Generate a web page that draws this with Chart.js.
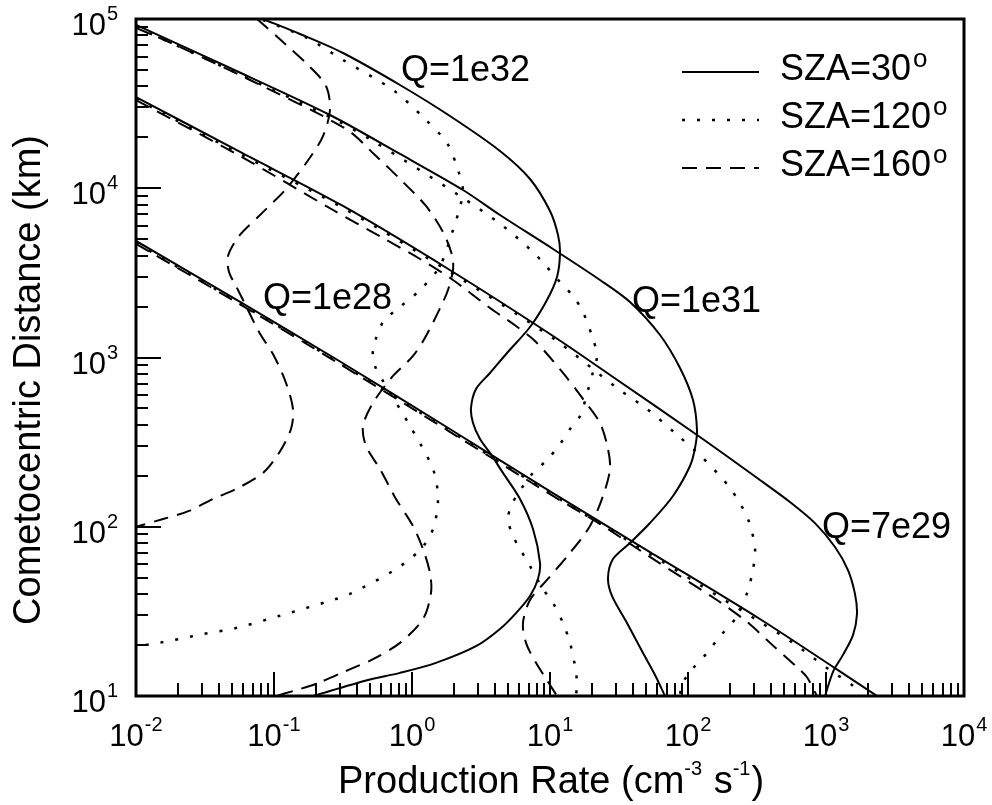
<!DOCTYPE html>
<html>
<head>
<meta charset="utf-8">
<title>Production rate vs cometocentric distance</title>
<script src="https://cdn.jsdelivr.net/npm/chart.js@4.4.1/dist/chart.umd.min.js"></script>
<style>
  html, body { margin: 0; padding: 0; background: #fff; }
  canvas { display: block; }
</style>
</head>
<body>
<canvas id="chart" width="992" height="805"></canvas>
<script>
// ---- axis ticks (powers of ten) ----
const xTickExps = [-2, -1, 0, 1, 2, 3, 4];
const yTickExps = [1, 2, 3, 4, 5];
const minorSteps = [2, 3, 4, 5, 6, 7, 8, 9];

// ---- curves: [production rate (cm-3 s-1), distance (km)] ----
// Q = 1e28
const q28_sza30 = [[0.01, 4880], [0.0568, 2130], [0.281, 980], [1.88, 378], [10.5, 158], [53.0, 70.9], [332, 28.5], [2340, 10]];
const q28_sza120 = [[0.01, 4750], [0.0568, 2080], [0.281, 955], [1.88, 368], [10.5, 154], [53.0, 69.0], [122, 45.3], [332, 27.4], [577, 20.6], [1069, 14.2], [1569, 11.5], [1764, 10]];
const q28_sza160 = [[0.01, 4700], [0.0568, 2060], [0.281, 945], [1.88, 364], [10.5, 152], [23.0, 104], [53.0, 66.3], [162, 36.9], [268, 27.4], [393, 20.6], [617, 14.8], [728, 12.9], [861, 10]];

// Q = 7e29
const q29_sza30 = [[0.01, 34600], [0.0568, 16380], [0.316, 7855], [1.88, 3289], [10.52, 1340], [28.61, 767], [122, 339], [332, 189], [548, 140], [832, 105], [1162, 75.9], [1443, 55.5], [1622, 40.1], [1677, 30.5], [1569, 22.9], [1328, 17.5], [1124, 13.9], [984, 10]];
const q29_sza120 = [[0.01, 33680], [0.0568, 15930], [0.316, 7645], [1.88, 3201], [10.5, 1300], [30.6, 660], [50.5, 496], [80.5, 358], [128, 255], [202, 169], [272, 111], [306, 73.9], [296, 56.3], [268, 40.6], [219, 28.5], [171, 22.6], [137, 17.9], [109, 14.6], [90.5, 11.8], [87.5, 10]];
const q29_sza160 = [[0.01, 33210], [0.0568, 15510], [0.268, 7438], [0.617, 5082], [1.143, 3819], [1.982, 2871], [3.674, 1961], [5.67, 1535], [7.918, 1235], [12.42, 810], [17.34, 569], [23.03, 410], [26.32, 288], [27.21, 219], [24.22, 152], [19.49, 101], [13.96, 70.0], [9.513, 48.5], [7.164, 36.9], [6.372, 27.0], [6.70, 20.6], [7.918, 15.7], [9.513, 12.4], [11.24, 10]];

// Q = 1e31
const q31_sza30 = [[0.01, 92150], [0.048, 51330], [0.2545, 27090], [0.8185, 15940], [2.342, 9766], [4.341, 6950], [10.52, 4377], [23.03, 2871], [37.98, 2128], [62.68, 1358], [87.5, 867], [108.7, 561], [116.2, 373], [112.4, 292], [103.4, 228.5], [77.86, 152], [53.04, 105.2], [37.98, 80.2], [28.61, 64.5], [26.32, 49.8], [28.13, 39.0], [36.14, 27.0], [47.2, 17.95], [57.67, 13.3], [68.13, 10]];
const q31_sza120 = [[0.01, 89680], [0.048, 49950], [0.2545, 26360], [0.5217, 19020], [2.227, 9000], [4.564, 5983], [7.531, 4201], [9.354, 3472], [11.82, 2793], [14.68, 2309], [17.34, 1857], [20.49, 1286], [21.91, 1021], [20.49, 821], [18.86, 643], [16.5, 451], [13.96, 378], [11.82, 308], [9.513, 248], [7.531, 208], [6.165, 167], [5.304, 136], [4.963, 111], [5.394, 88.2], [6.062, 73.9], [7.164, 58.6], [8.898, 42.9], [10.52, 35.4], [12.42, 27.0], [13.96, 20.6], [15.18, 15.0], [15.69, 11.9], [15.43, 10]];
const q31_sza160 = [[0.01, 88470], [0.01734, 73140], [0.067, 43610], [0.3323, 22400], [0.5394, 15720], [0.8606, 10890], [1.263, 7855], [1.677, 5514], [1.949, 4033], [1.982, 3289], [1.823, 2505], [1.677, 2128], [1.263, 1340], [1.017, 1021], [0.7282, 778], [0.5217, 539], [0.4414, 394], [0.4642, 300], [0.5863, 219], [0.7657, 146], [1.017, 101], [1.201, 73.9], [1.35, 53.3], [1.373, 40.6], [1.201, 28.5], [0.8185, 20.6], [0.5217, 16.5], [0.3323, 14.05], [0.2015, 11.8], [0.1373, 10.7], [0.1034, 10]];

// Q = 1e32
const q32_sza30 = [[0.0832, 100000], [0.1543, 81550], [0.3162, 62970], [0.8185, 40740], [1.884, 26720], [4.341, 16600], [7.164, 11340], [10.0, 7337], [11.43, 5294], [11.82, 4144], [11.24, 2990], [9.513, 2186], [7.164, 1514], [4.88, 1063], [3.674, 810], [2.909, 652], [2.676, 503], [2.767, 410], [3.111, 330], [3.674, 273], [4.564, 208], [6.062, 146], [7.531, 97.0], [8.463, 61.1], [8.185, 49.1], [7.164, 39.0], [5.67, 30.9], [4.341, 24.9], [2.909, 19.7], [1.492, 15.7], [0.8185, 13.7], [0.472, 12.4], [0.1917, 10]];
const q32_sza120 = [[0.0832, 98650], [0.1734, 77220], [0.3162, 57280], [0.7282, 38060], [1.201, 26360], [1.793, 18510], [2.119, 13350], [2.342, 9766], [2.227, 7750], [1.982, 5667], [1.595, 3472], [1.143, 2505], [0.8185, 1988], [0.6165, 1620], [0.5217, 1107], [0.5394, 891], [0.6165, 726], [0.9672, 394], [1.42, 219], [1.543, 146], [1.42, 97.0], [1.143, 72.9], [0.7282, 54.8], [0.3554, 40.1], [0.281, 37.4], [0.1087, 29.7], [0.05304, 25.2], [0.03058, 23.2], [0.01468, 20.6], [0.01, 19.7]];
const q32_sza160 = [[0.0753, 100000], [0.1162, 73140], [0.1793, 52780], [0.2381, 40190], [0.2545, 28990], [0.2265, 20350], [0.1793, 14890], [0.1222, 9899], [0.07786, 6855], [0.05578, 5223], [0.04642, 3978], [0.0472, 3201], [0.05304, 2645], [0.06268, 2015], [0.07786, 1415], [0.1, 1021], [0.1222, 707], [0.1373, 496], [0.1328, 378], [0.1087, 273], [0.08323, 208], [0.05304, 167], [0.03614, 146], [0.02422, 124], [0.01569, 111], [0.01, 100]];

// ---- text ----
const legendLabels = ['SZA=30', 'SZA=120', 'SZA=160'];
const qLabels = [
  { text: 'Q=1e32', x: 401, y: 81 },
  { text: 'Q=1e28', x: 263, y: 309 },
  { text: 'Q=1e31', x: 632, y: 312 },
  { text: 'Q=7e29', x: 822, y: 538 }
];

const FONT = '"Liberation Sans", Arial, Helvetica, sans-serif';
const dashStyles = { solid: [], dotted: [3, 12], dashed: [15, 9] };

function curve(points, style) {
  return {
    data: points.map(p => ({ x: p[0], y: p[1] })),
    showLine: true,
    borderColor: '#000',
    borderWidth: style === 'dotted' ? 2.5 : 2,
    borderDash: dashStyles[style],
    borderCapStyle: 'butt',
    pointRadius: 0,
    pointHoverRadius: 0,
    tension: 0.3,
    fill: false
  };
}

// draws "10" with a raised exponent
function drawPower(ctx, exp, x, baseY, align) {
  const baseFont = '31px ' + FONT;
  const supFont = '20px ' + FONT;
  ctx.font = baseFont;
  const wb = ctx.measureText('10').width;
  ctx.font = supFont;
  const ws = ctx.measureText(String(exp)).width;
  const total = wb + 1 + ws;
  const left = align === 'center' ? x - total / 2 : x - total;
  ctx.textAlign = 'left';
  ctx.textBaseline = 'alphabetic';
  ctx.font = baseFont;
  ctx.fillText('10', left, baseY);
  ctx.font = supFont;
  ctx.fillText(String(exp), left + wb + 1, baseY - 15);
}

const decorations = {
  id: 'decorations',
  afterDraw(chart) {
    const { ctx, chartArea: area } = chart;
    const xs = chart.scales.x;
    const ys = chart.scales.y;
    ctx.save();
    ctx.strokeStyle = '#000';
    ctx.fillStyle = '#000';
    ctx.setLineDash([]);

    // inward ticks on bottom and left axes
    ctx.lineWidth = 2;
    ctx.beginPath();
    xTickExps.forEach((e, i) => {
      const px = Math.round(xs.getPixelForValue(Math.pow(10, e)));
      ctx.moveTo(px, area.bottom);
      ctx.lineTo(px, area.bottom - 24);
      if (i < xTickExps.length - 1) {
        minorSteps.forEach(m => {
          const mx = Math.round(xs.getPixelForValue(m * Math.pow(10, e)));
          ctx.moveTo(mx, area.bottom);
          ctx.lineTo(mx, area.bottom - 13);
        });
      }
    });
    yTickExps.forEach((e, i) => {
      const py = Math.round(ys.getPixelForValue(Math.pow(10, e)));
      ctx.moveTo(area.left, py);
      ctx.lineTo(area.left + 25, py);
      if (i < yTickExps.length - 1) {
        minorSteps.forEach(m => {
          const my = Math.round(ys.getPixelForValue(m * Math.pow(10, e)));
          ctx.moveTo(area.left, my);
          ctx.lineTo(area.left + 12, my);
        });
      }
    });
    ctx.stroke();

    // frame
    ctx.lineWidth = 3;
    ctx.strokeRect(area.left, area.top, area.right - area.left, area.bottom - area.top);

    // tick labels
    xTickExps.forEach(e => drawPower(ctx, e, xs.getPixelForValue(Math.pow(10, e)), 746, 'center'));
    yTickExps.forEach(e => drawPower(ctx, e, 118, ys.getPixelForValue(Math.pow(10, e)) + 16, 'right'));

    // x axis title with superscripts
    const titleFont = '38px ' + FONT;
    const supFont = '20px ' + FONT;
    const parts = [['Production Rate (cm', false], ['-3', true], [' s', false], ['-1', true], [')', false]];
    let tx = 338;
    ctx.textAlign = 'left';
    parts.forEach(([t, sup]) => {
      ctx.font = sup ? supFont : titleFont;
      ctx.fillText(t, tx, sup ? 775 : 793);
      tx += ctx.measureText(t).width + (sup ? 1 : 0);
    });

    // y axis title
    ctx.save();
    ctx.translate(40, 380);
    ctx.rotate(-Math.PI / 2);
    ctx.font = titleFont;
    ctx.textAlign = 'center';
    ctx.fillText('Cometocentric Distance (km)', 0, 0);
    ctx.restore();

    // curve labels
    ctx.font = '36px ' + FONT;
    ctx.textAlign = 'left';
    qLabels.forEach(l => ctx.fillText(l.text, l.x, l.y));

    // legend
    const legendStyles = ['solid', 'dotted', 'dashed'];
    legendLabels.forEach((label, i) => {
      const ly = 72 + i * 48;
      ctx.beginPath();
      ctx.lineWidth = legendStyles[i] === 'dotted' ? 2.5 : 2;
      ctx.setLineDash(dashStyles[legendStyles[i]]);
      ctx.moveTo(682, ly);
      ctx.lineTo(759, ly);
      ctx.stroke();
      ctx.setLineDash([]);
      ctx.font = '36px ' + FONT;
      ctx.fillText(label, 780, ly + 8);
      const w = ctx.measureText(label).width;
      ctx.font = '26px ' + FONT;
      ctx.fillText('o', 780 + w + 2, ly - 5);
    });
    ctx.restore();
  }
};

new Chart(document.getElementById('chart'), {
  type: 'scatter',
  data: {
    datasets: [
      curve(q28_sza30, 'solid'), curve(q28_sza120, 'dotted'), curve(q28_sza160, 'dashed'),
      curve(q29_sza30, 'solid'), curve(q29_sza120, 'dotted'), curve(q29_sza160, 'dashed'),
      curve(q31_sza30, 'solid'), curve(q31_sza120, 'dotted'), curve(q31_sza160, 'dashed'),
      curve(q32_sza30, 'solid'), curve(q32_sza120, 'dotted'), curve(q32_sza160, 'dashed')
    ]
  },
  options: {
    responsive: false,
    devicePixelRatio: 1,
    animation: false,
    layout: { padding: { left: 136, top: 19, right: 28, bottom: 109 } },
    plugins: { legend: { display: false }, tooltip: { enabled: false } },
    scales: {
      x: {
        type: 'logarithmic', min: 0.01, max: 10000,
        ticks: { display: false },
        grid: { display: false, drawTicks: false },
        border: { display: false },
        afterFit: s => { s.height = 0; }
      },
      y: {
        type: 'logarithmic', min: 10, max: 100000,
        ticks: { display: false },
        grid: { display: false, drawTicks: false },
        border: { display: false },
        afterFit: s => { s.width = 0; }
      }
    }
  },
  plugins: [decorations]
});
</script>
</body>
</html>
